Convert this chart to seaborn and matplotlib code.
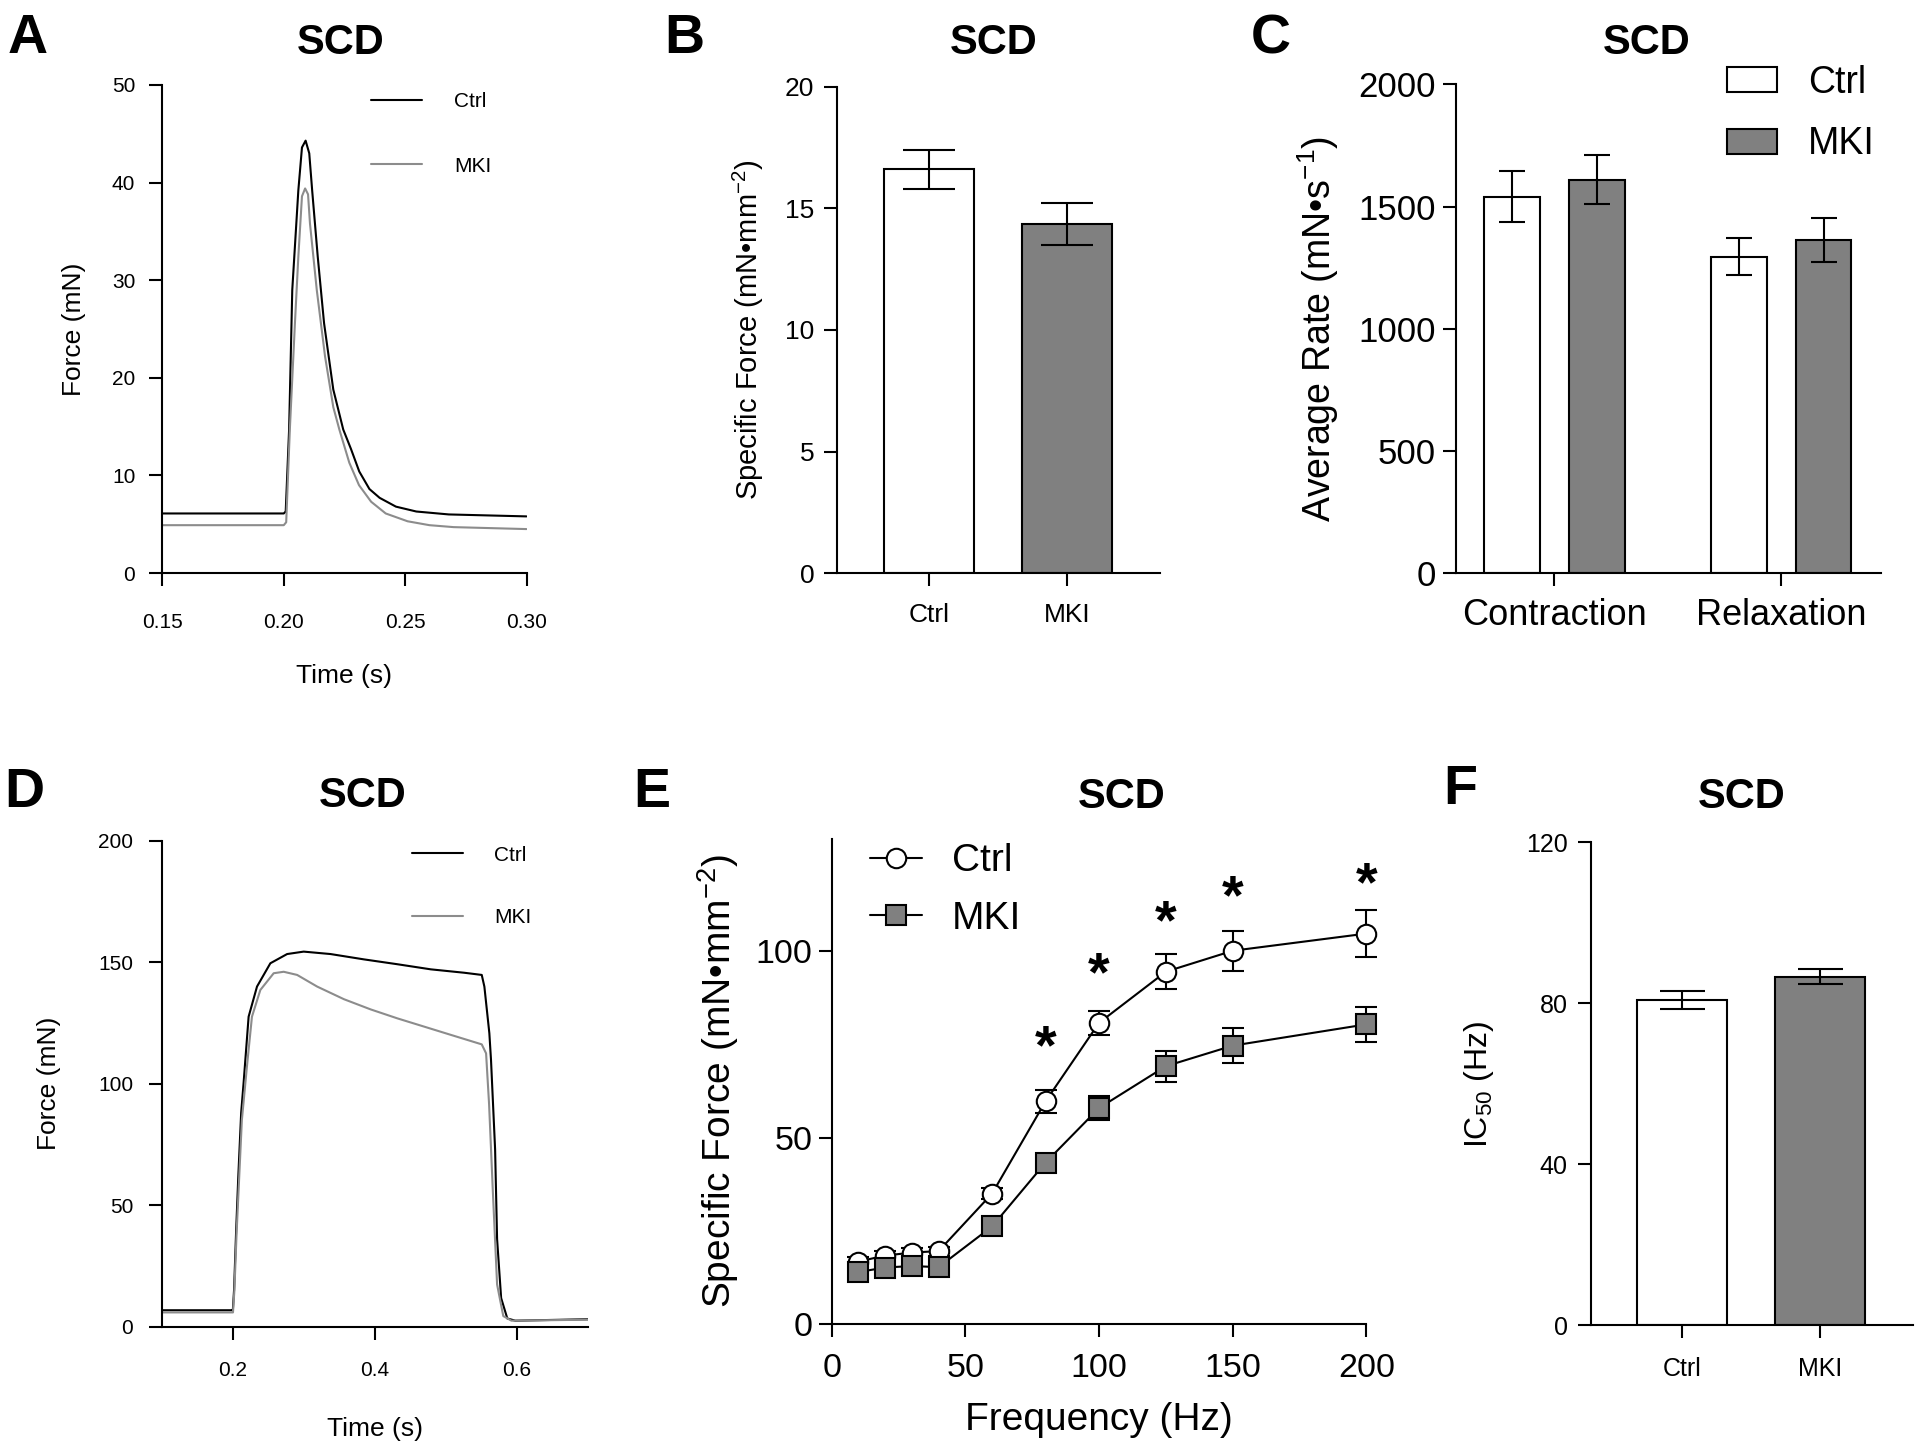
import numpy as np
import pandas as pd
import matplotlib
matplotlib.use("Agg")
import matplotlib.pyplot as plt
import seaborn as sns

# ------------------------------------------------------------------ data
groups = ["Ctrl", "MKI"]

# A: single twitch traces (time s, force mN)
twitch_ctrl_t = [0.150, 0.200, 0.2008, 0.2022, 0.2035, 0.2060, 0.2075, 0.2090, 0.2105,
                 0.2117, 0.2140, 0.2166, 0.2204, 0.2245, 0.2277, 0.2311, 0.2353, 0.2395,
                 0.2462, 0.2546, 0.2680, 0.300]
twitch_ctrl_f = [6.1, 6.1, 6.3, 14.7, 29.0, 39.2, 43.6, 44.3, 43.0,
                 39.2, 32.4, 25.6, 18.8, 14.7, 12.7, 10.4, 8.6, 7.7,
                 6.8, 6.3, 6.0, 5.8]
twitch_mki_t = [0.150, 0.200, 0.2010, 0.2025, 0.2046, 0.2060, 0.2075, 0.2088, 0.2100,
                0.2108, 0.2136, 0.2170, 0.2204, 0.2229, 0.2270, 0.2310, 0.2360, 0.2420,
                0.2510, 0.2600, 0.2700, 0.300]
twitch_mki_f = [4.9, 4.9, 5.2, 14.7, 25.6, 32.4, 38.6, 39.4, 38.8,
                35.8, 29.0, 22.2, 17.0, 14.7, 11.3, 9.0, 7.3, 6.1,
                5.3, 4.9, 4.7, 4.5]

# B: specific twitch force
spec_force_mean = [16.6, 14.35]
spec_force_sem = [0.8, 0.88]

# C: average rates
rate_phase = ["Contraction", "Relaxation"]
rate_ctrl_mean = [1540, 1295]
rate_ctrl_sem = [105, 77]
rate_mki_mean = [1610, 1363]
rate_mki_sem = [100, 88]

# D: tetanic traces
tetanus_ctrl_t = [0.100, 0.200, 0.2003, 0.202, 0.205, 0.208, 0.212, 0.2154, 0.2225, 0.2343,
                  0.2531, 0.2767, 0.300, 0.3378, 0.3849, 0.432, 0.479, 0.526, 0.5507,
                  0.5544, 0.5614, 0.5637, 0.5695, 0.5723, 0.578, 0.5867, 0.598, 0.700]
tetanus_ctrl_f = [6.7, 6.7, 6.7, 15.0, 40.0, 62.0, 88.0, 100.2, 127.6, 140.0,
                  149.6, 153.4, 154.4, 153.4, 151.2, 149.2, 147.1, 145.7, 144.8,
                  140.0, 120.8, 110.0, 73.0, 36.0, 11.7, 3.3, 2.4, 3.0]
tetanus_mki_t = [0.100, 0.200, 0.2005, 0.2025, 0.2055, 0.209, 0.213, 0.2201, 0.2272, 0.239,
                 0.2578, 0.2719, 0.2908, 0.319, 0.3567, 0.3943, 0.432, 0.4697, 0.5073,
                 0.5507, 0.5568, 0.561, 0.5665, 0.5723, 0.581, 0.5925, 0.700]
tetanus_mki_f = [5.8, 5.8, 5.8, 15.0, 38.0, 60.0, 85.0, 107.0, 127.6, 138.6,
                 145.5, 146.1, 144.8, 140.0, 134.8, 130.6, 126.9, 123.5, 120.1,
                 116.2, 112.5, 91.7, 54.5, 17.3, 4.3, 2.4, 2.8]

# E: force-frequency
freq_hz = [10, 20, 30, 40, 60, 80, 100, 125, 150, 200]
ctrl_force = [16.8, 18.4, 19.2, 19.6, 35.0, 59.7, 80.7, 94.4, 100.0, 104.6]
ctrl_sem = [1.2, 1.2, 1.2, 1.2, 1.5, 3.0, 3.3, 4.7, 5.3, 6.2]
mki_force = [14.0, 15.2, 15.6, 15.3, 26.2, 43.3, 57.9, 69.1, 74.6, 80.3]
mki_sem = [1.0, 1.0, 1.0, 1.0, 1.2, 1.8, 3.2, 4.1, 4.6, 4.7]
star_freq = [80, 100, 125, 150, 200]
star_y = [78.3, 98.0, 111.7, 118.4, 122.0]

# F: IC50
ic50_mean = [80.8, 86.6]
ic50_sem = [2.3, 1.8]

# ------------------------------------------------------------------ style
sns.set_theme(style="ticks")
plt.rcParams["font.family"] = ["Liberation Sans", "DejaVu Sans"]
plt.rcParams["mathtext.fontset"] = "custom"
plt.rcParams["mathtext.rm"] = "Liberation Sans"
plt.rcParams["mathtext.it"] = "Liberation Sans:italic"
plt.rcParams["mathtext.bf"] = "Liberation Sans:bold"
plt.rcParams["axes.linewidth"] = 1.5
plt.rcParams["axes.edgecolor"] = "black"
plt.rcParams["xtick.color"] = "black"
plt.rcParams["ytick.color"] = "black"
plt.rcParams["text.color"] = "black"
plt.rcParams["axes.labelcolor"] = "black"

W, H = 1920, 1452
fig = plt.figure(figsize=(W / 100, H / 100), dpi=100)
fig.patch.set_facecolor("white")

GRAY = "#808080"
TRACE_GRAY = "#8c8c8c"


def add_axes(x0, x1, ytop, ybot):
    return fig.add_axes([x0 / W, 1 - ybot / H, (x1 - x0) / W, (ybot - ytop) / H])


def style_axes(ax, tick_fs, xpad, ypad):
    sns.despine(ax=ax)
    ax.tick_params(axis="both", direction="out", length=9.5, width=1.5, colors="black")
    ax.tick_params(axis="x", labelsize=tick_fs, pad=xpad)
    ax.tick_params(axis="y", labelsize=tick_fs, pad=ypad)
    ax.set_facecolor("white")
    ax.grid(False)


def place_labels(ax, xlabel_y=None, ylabel_x=None):
    if xlabel_y is not None:
        ax.xaxis.set_label_coords(0.5, xlabel_y)
        ax.xaxis.label.set_va("center")
    if ylabel_x is not None:
        ax.yaxis.set_label_coords(ylabel_x, 0.5)
        ax.yaxis.label.set_va("center")


def letter(x, y, s):
    fig.text(x / W, 1 - y / H, s, fontsize=40, fontweight="bold", ha="left", va="baseline")


def title(x, y, s="SCD"):
    fig.text(x / W, 1 - y / H, s, fontsize=30, fontweight="bold", ha="center", va="baseline")


# ------------------------------------------------------------------ A
axA = add_axes(162.4, 526.5, 85, 573)
sns.lineplot(x=twitch_ctrl_t, y=twitch_ctrl_f, color="black", linewidth=1.5,
             label="Ctrl", errorbar=None, ax=axA)
sns.lineplot(x=twitch_mki_t, y=twitch_mki_f, color=TRACE_GRAY, linewidth=1.5,
             label="MKI", errorbar=None, ax=axA)
axA.set_xlim(0.15, 0.30)
axA.set_ylim(0, 50)
axA.set_xticks([0.15, 0.20, 0.25, 0.30])
axA.set_xticklabels(["0.15", "0.20", "0.25", "0.30"])
axA.set_yticks([0, 10, 20, 30, 40, 50])
style_axes(axA, 15, 19, 10)
axA.set_xlabel("Time (s)", fontsize=19)
axA.set_ylabel("Force (mN)", fontsize=19)
place_labels(axA, -0.211, -0.244)
axA.legend(loc="center left", bbox_to_anchor=(0.572, 0.900), fontsize=15, frameon=False,
           handlelength=2.45, handletextpad=1.55, labelspacing=2.2, borderpad=0,
           borderaxespad=0)

# ------------------------------------------------------------------ B
axB = add_axes(837.1, 1159.6, 86.5, 573.4)
dfB = pd.DataFrame({"group": groups, "value": spec_force_mean})
sns.barplot(data=dfB, x="group", y="value", hue="group", palette=["white", GRAY],
            edgecolor="black", linewidth=1.5, width=0.654, errorbar=None, legend=False,
            ax=axB, zorder=2)
axB.errorbar(x=[0, 1], y=spec_force_mean, yerr=spec_force_sem, fmt="none", ecolor="black",
             elinewidth=1.5, capsize=18.4, capthick=1.5, zorder=3)
axB.set_xlim(-0.668, 1.675)
axB.set_ylim(0, 20)
axB.set_yticks([0, 5, 10, 15, 20])
style_axes(axB, 19, 12, 7)
axB.set_xlabel("")
axB.set_ylabel("Specific Force (mN•mm$^{-2}$)", fontsize=21)
place_labels(axB, None, -0.276)

# ------------------------------------------------------------------ C
axC = add_axes(1456.3, 1881, 84.2, 573.4)
dfC = pd.DataFrame({
    "phase": rate_phase * 2,
    "group": ["Ctrl"] * len(rate_phase) + ["MKI"] * len(rate_phase),
    "rate": rate_ctrl_mean + rate_mki_mean,
})
c_width = 0.748
sns.barplot(data=dfC, x="phase", y="rate", hue="group", hue_order=groups,
            palette={"Ctrl": "white", "MKI": GRAY}, edgecolor="black", linewidth=1.5,
            width=c_width, gap=0.345, errorbar=None, ax=axC, zorder=2)
offs = c_width / 4
xs_ctrl = [i - offs for i in range(len(rate_phase))]
xs_mki = [i + offs for i in range(len(rate_phase))]
axC.errorbar(x=xs_ctrl, y=rate_ctrl_mean, yerr=rate_ctrl_sem, fmt="none", ecolor="black",
             elinewidth=1.5, capsize=9.5, capthick=1.5, zorder=3)
axC.errorbar(x=xs_mki, y=rate_mki_mean, yerr=rate_mki_sem, fmt="none", ecolor="black",
             elinewidth=1.5, capsize=9.5, capthick=1.5, zorder=3)
axC.set_xlim(-0.432, 1.44)
axC.set_ylim(0, 2000)
axC.set_yticks([0, 500, 1000, 1500, 2000])
style_axes(axC, 25, 8, 5)
axC.tick_params(axis="x", labelsize=26)
axC.set_xlabel("")
axC.set_ylabel("Average Rate (mN•s$^{-1}$)", fontsize=27)
place_labels(axC, None, -0.324)
h, l = axC.get_legend_handles_labels()
axC.legend(h, l, loc="center left", bbox_to_anchor=(0.637, 0.940), fontsize=27,
           frameon=False, handlelength=1.33, handleheight=0.64, handletextpad=0.84,
           labelspacing=0.69, borderpad=0, borderaxespad=0)

# ------------------------------------------------------------------ D
axD = add_axes(161.6, 587.8, 840.9, 1326.5)
sns.lineplot(x=tetanus_ctrl_t, y=tetanus_ctrl_f, color="black", linewidth=1.5,
             label="Ctrl", errorbar=None, ax=axD)
sns.lineplot(x=tetanus_mki_t, y=tetanus_mki_f, color=TRACE_GRAY, linewidth=1.5,
             label="MKI", errorbar=None, ax=axD)
axD.set_xlim(0.1, 0.7)
axD.set_ylim(0, 200)
axD.set_xticks([0.2, 0.4, 0.6])
axD.set_xticklabels(["0.2", "0.4", "0.6"])
axD.set_yticks([0, 50, 100, 150, 200])
style_axes(axD, 15, 15, 11)
axD.set_xlabel("Time (s)", fontsize=19)
axD.set_ylabel("Force (mN)", fontsize=19)
place_labels(axD, -0.211, -0.264)
axD.legend(loc="center left", bbox_to_anchor=(0.5875, 0.906), fontsize=15, frameon=False,
           handlelength=2.45, handletextpad=1.5, labelspacing=2.1, borderpad=0,
           borderaxespad=0)

# ------------------------------------------------------------------ E
axE = add_axes(831.7, 1366.4, 838.7, 1324.3)
axE.errorbar(freq_hz, ctrl_force, yerr=ctrl_sem, fmt="none", ecolor="black",
             elinewidth=1.5, capsize=7.6, capthick=1.5, zorder=3, clip_on=False)
axE.errorbar(freq_hz, mki_force, yerr=mki_sem, fmt="none", ecolor="black",
             elinewidth=1.5, capsize=7.6, capthick=1.5, zorder=3, clip_on=False)
sns.lineplot(x=freq_hz, y=ctrl_force, color="black", linewidth=1.5, marker="o",
             markersize=14, markerfacecolor="white", markeredgecolor="black",
             markeredgewidth=1.5, label="Ctrl", errorbar=None, ax=axE, zorder=4,
             clip_on=False)
sns.lineplot(x=freq_hz, y=mki_force, color="black", linewidth=1.5, marker="s",
             markersize=14, markerfacecolor=GRAY, markeredgecolor="black",
             markeredgewidth=1.5, label="MKI", errorbar=None, ax=axE, zorder=4,
             clip_on=False)
star_fs = 40
for f, y in zip(star_freq, star_y):
    axE.annotate("*", xy=(f, y), xytext=(0, -0.57 * star_fs), textcoords="offset points",
                 ha="center", va="baseline", fontsize=star_fs, fontweight="bold")
axE.set_xlim(0, 200)
axE.set_ylim(0, 130)
axE.set_xticks([0, 50, 100, 150, 200])
axE.set_yticks([0, 50, 100])
style_axes(axE, 24.5, 11, 4.5)
axE.set_xlabel("Frequency (Hz)", fontsize=28)
axE.set_ylabel("Specific Force (mN•mm$^{-2}$)", fontsize=28)
place_labels(axE, -0.197, -0.213)
axE.legend(loc="center left", bbox_to_anchor=(0.0716, 0.894), fontsize=28, frameon=False,
           handlelength=1.33, handletextpad=0.77, labelspacing=0.55, borderpad=0,
           borderaxespad=0)

# ------------------------------------------------------------------ F
axF = add_axes(1590.7, 1913, 842.3, 1325.3)
dfF = pd.DataFrame({"group": groups, "value": ic50_mean})
sns.barplot(data=dfF, x="group", y="value", hue="group", palette=["white", GRAY],
            edgecolor="black", linewidth=1.5, width=0.654, errorbar=None, legend=False,
            ax=axF, zorder=2)
axF.errorbar(x=[0, 1], y=ic50_mean, yerr=ic50_sem, fmt="none", ecolor="black",
             elinewidth=1.5, capsize=16.2, capthick=1.5, zorder=3)
axF.set_xlim(-0.665, 1.675)
axF.set_ylim(0, 120)
axF.set_yticks([0, 40, 80, 120])
style_axes(axF, 18, 13, 7)
axF.set_xlabel("")
axF.set_ylabel("IC$_{50}$ (Hz)", fontsize=23)
place_labels(axF, None, -0.347)

# ------------------------------------------------------------------ letters & titles
letter(8, 53, "A")
letter(664, 53, "B")
letter(1251, 53, "C")
letter(4, 807, "D")
letter(633, 807, "E")
letter(1443, 804, "F")
title(341, 54)
title(994, 54)
title(1647, 54)
title(363, 807)
title(1122, 808)
title(1742, 808)

fig.savefig("out.png", dpi=100, facecolor="white")
